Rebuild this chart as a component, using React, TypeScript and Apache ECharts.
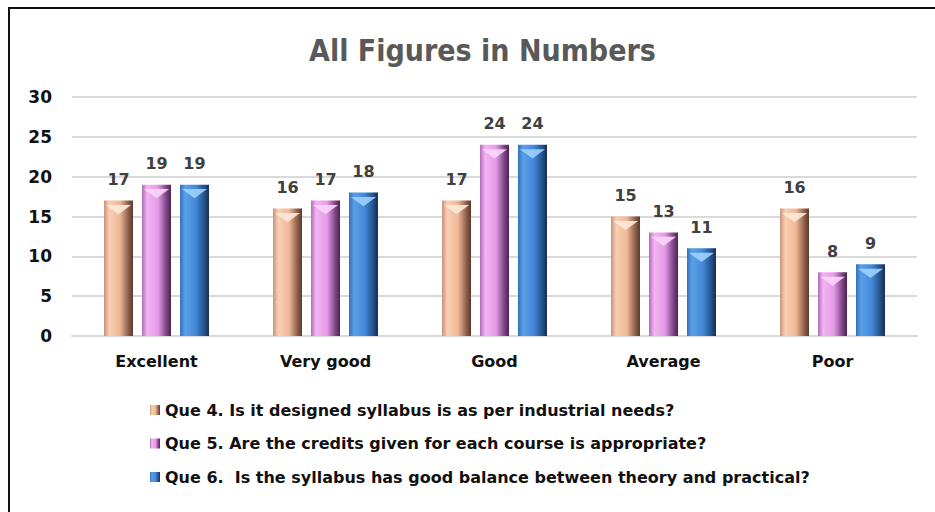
import React, { useEffect, useRef } from "react";
import * as echarts from "echarts";

const categories = ["Excellent", "Very good", "Good", "Average", "Poor"];
const seriesNames = [
  "Que 4. Is it designed syllabus is as per industrial needs?",
  "Que 5. Are the credits given for each course is appropriate?",
  "Que 6.  Is the syllabus has good balance between theory and practical?",
];
const que4 = [17, 16, 17, 15, 16];
const que5 = [19, 17, 24, 13, 8];
const que6 = [19, 18, 24, 11, 9];
const yTicks = { min: 0, max: 30, interval: 5 };

const palettes = [
  { edgeL: "#c8927a", light: "#f9cfb3", mid: "#efb897", dark: "#8a5c48", darkest: "#5a3a2c", cap: "#fde9da" },
  { edgeL: "#b06cb8", light: "#f3b4f3", mid: "#e49be6", dark: "#7a4282", darkest: "#4a2450", cap: "#fad6fa" },
  { edgeL: "#3470b8", light: "#5aa0e8", mid: "#4288d8", dark: "#234e86", darkest: "#142c50", cap: "#9fd0fa" },
];

function grad(p: any) {
  return new echarts.graphic.LinearGradient(0, 0, 1, 0, [
    { offset: 0, color: p.edgeL },
    { offset: 0.18, color: p.light },
    { offset: 0.55, color: p.mid },
    { offset: 0.85, color: p.dark },
    { offset: 1, color: p.darkest },
  ]);
}

export default function App() {
  const ref = useRef<HTMLDivElement>(null);
  useEffect(() => {
    if (!ref.current) return;
    const chart = echarts.init(ref.current, null, { renderer: "svg" });
    const data = [que4, que5, que6];
    const barSeries = data.map((d, i) => ({
      name: seriesNames[i],
      type: "bar",
      data: d,
      barWidth: 29,
      barGap: "31%",
      itemStyle: { color: grad(palettes[i]) },
      label: {
        show: true,
        position: "top",
        distance: 13,
        color: "#404040",
        fontWeight: "bold",
        fontSize: 16,
        fontFamily: "DejaVu Sans, Verdana, sans-serif",
      },
      z: 2,
    }));
    const capSeries = data.map((d, i) => ({
      name: "cap" + i,
      type: "pictorialBar",
      data: d,
      barWidth: 29,
      barGap: "31%",
      symbol: "path://M0,0 L10,0 L5,6 Z",
      symbolSize: [25, 9],
      symbolPosition: "end",
      symbolOffset: [0, "50%"],
      itemStyle: { color: palettes[i].cap, opacity: 0.9 },
      silent: true,
      z: 3,
    }));
    chart.setOption({
      animation: false,
      title: {
        text: "All Figures in Numbers",
        left: 304,
        top: 30,
        textStyle: {
          color: "#595959",
          fontSize: 30,
          fontWeight: "bold",
          fontFamily: "DejaVu Sans Condensed, Liberation Sans Narrow, Liberation Sans, sans-serif",
        },
      },
      graphic: [
        {
          type: "rect",
          shape: { x: 9, y: 8, width: 940, height: 520 },
          style: { fill: "none", stroke: "#111", lineWidth: 2 },
          silent: true,
        },
      ],
      grid: { left: 72, right: 18, top: 97, bottom: 176 },
      legend: {
        data: seriesNames,
        orient: "vertical",
        left: 145,
        top: 397,
        itemGap: 17.5,
        itemWidth: 10,
        itemHeight: 10,
        icon: "rect",
        textStyle: {
          color: "#111",
          fontSize: 16,
          fontWeight: "bold",
          fontFamily: "DejaVu Sans, Verdana, sans-serif",
        },
      },
      xAxis: {
        type: "category",
        data: categories,
        axisTick: { show: false },
        axisLine: { lineStyle: { color: "#d9d9d9", width: 2 } },
        axisLabel: {
          color: "#111",
          fontWeight: "bold",
          fontSize: 16,
          margin: 17,
          fontFamily: "DejaVu Sans, Verdana, sans-serif",
        },
      },
      yAxis: {
        type: "value",
        min: yTicks.min,
        max: yTicks.max,
        interval: yTicks.interval,
        axisLine: { show: false },
        axisTick: { show: false },
        splitLine: { lineStyle: { color: "#d9d9d9", width: 2 } },
        axisLabel: {
          color: "#111",
          fontWeight: "bold",
          fontSize: 17,
          margin: 20,
          fontFamily: "DejaVu Sans, Verdana, sans-serif",
        },
      },
      series: [...barSeries, ...capSeries],
    });
    return () => chart.dispose();
  }, []);
  return (
    <div
      ref={ref}
      style={{ position: "fixed", left: 0, top: 0, width: 935, height: 512, background: "#fff" }}
    />
  );
}
